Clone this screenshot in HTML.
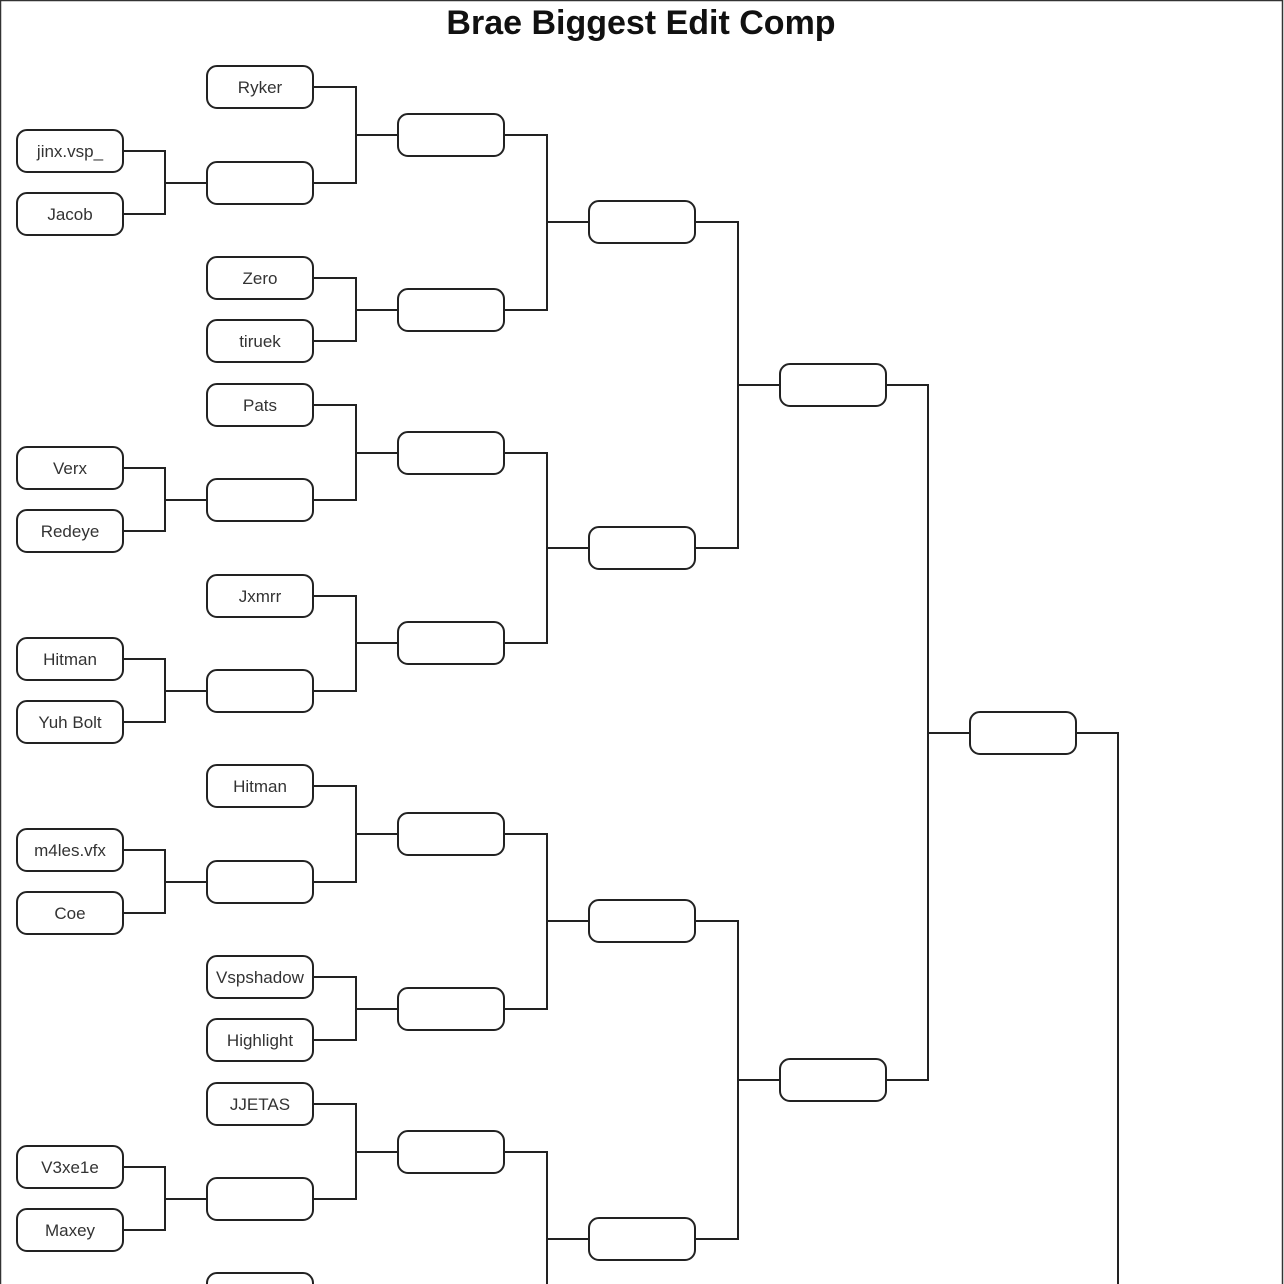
<!DOCTYPE html>
<html><head><meta charset="utf-8"><style>
html,body{margin:0;padding:0;background:#fff}
svg{display:block}
text{font-family:"Liberation Sans",sans-serif}
</style></head><body>
<svg width="1284" height="1284" viewBox="0 0 1284 1284" xmlns="http://www.w3.org/2000/svg">
<rect x="0.5" y="0.5" width="1282" height="1290" fill="#fff" stroke="#333" stroke-width="1.5"/>
<text x="641" y="34" text-anchor="middle" font-size="34" font-weight="bold" fill="#111">Brae Biggest Edit Comp</text>
<g fill="none" stroke="#222" stroke-width="2">
<path d="M123,151H165V214H123M165,183H207"/>
<path d="M123,468H165V531H123M165,500H207"/>
<path d="M123,659H165V722H123M165,691H207"/>
<path d="M123,850H165V913H123M165,882H207"/>
<path d="M123,1167H165V1230H123M165,1199H207"/>
<path d="M313,87H356V183H313M356,135H398"/>
<path d="M313,278H356V341H313M356,310H398"/>
<path d="M313,405H356V500H313M356,453H398"/>
<path d="M313,596H356V691H313M356,643H398"/>
<path d="M313,786H356V882H313M356,834H398"/>
<path d="M313,977H356V1040H313M356,1009H398"/>
<path d="M313,1104H356V1199H313M356,1152H398"/>
<path d="M504,135H547V310H504M547,222H589"/>
<path d="M504,453H547V643H504M547,548H589"/>
<path d="M504,834H547V1009H504M547,921H589"/>
<path d="M504,1152H547V1290M547,1239H589"/>
<path d="M695,222H738V548H695M738,385H780"/>
<path d="M695,921H738V1239H695M738,1080H780"/>
<path d="M886,385H928V1080H886M928,733H970"/>
<path d="M1076,733H1118V1290"/>
</g>
<g fill="#fff" stroke="#222" stroke-width="2">
<rect x="17" y="130" width="106" height="42" rx="10"/>
<rect x="17" y="193" width="106" height="42" rx="10"/>
<rect x="17" y="447" width="106" height="42" rx="10"/>
<rect x="17" y="510" width="106" height="42" rx="10"/>
<rect x="17" y="638" width="106" height="42" rx="10"/>
<rect x="17" y="701" width="106" height="42" rx="10"/>
<rect x="17" y="829" width="106" height="42" rx="10"/>
<rect x="17" y="892" width="106" height="42" rx="10"/>
<rect x="17" y="1146" width="106" height="42" rx="10"/>
<rect x="17" y="1209" width="106" height="42" rx="10"/>
<rect x="207" y="66" width="106" height="42" rx="10"/>
<rect x="207" y="162" width="106" height="42" rx="10"/>
<rect x="207" y="257" width="106" height="42" rx="10"/>
<rect x="207" y="320" width="106" height="42" rx="10"/>
<rect x="207" y="384" width="106" height="42" rx="10"/>
<rect x="207" y="479" width="106" height="42" rx="10"/>
<rect x="207" y="575" width="106" height="42" rx="10"/>
<rect x="207" y="670" width="106" height="42" rx="10"/>
<rect x="207" y="765" width="106" height="42" rx="10"/>
<rect x="207" y="861" width="106" height="42" rx="10"/>
<rect x="207" y="956" width="106" height="42" rx="10"/>
<rect x="207" y="1019" width="106" height="42" rx="10"/>
<rect x="207" y="1083" width="106" height="42" rx="10"/>
<rect x="207" y="1178" width="106" height="42" rx="10"/>
<rect x="207" y="1273" width="106" height="42" rx="10"/>
<rect x="398" y="114" width="106" height="42" rx="10"/>
<rect x="398" y="289" width="106" height="42" rx="10"/>
<rect x="398" y="432" width="106" height="42" rx="10"/>
<rect x="398" y="622" width="106" height="42" rx="10"/>
<rect x="398" y="813" width="106" height="42" rx="10"/>
<rect x="398" y="988" width="106" height="42" rx="10"/>
<rect x="398" y="1131" width="106" height="42" rx="10"/>
<rect x="589" y="201" width="106" height="42" rx="10"/>
<rect x="589" y="527" width="106" height="42" rx="10"/>
<rect x="589" y="900" width="106" height="42" rx="10"/>
<rect x="589" y="1218" width="106" height="42" rx="10"/>
<rect x="780" y="364" width="106" height="42" rx="10"/>
<rect x="780" y="1059" width="106" height="42" rx="10"/>
<rect x="970" y="712" width="106" height="42" rx="10"/>
</g>
<g font-size="17" fill="#333" text-anchor="middle">
<text x="70" y="157">jinx.vsp_</text>
<text x="70" y="220">Jacob</text>
<text x="70" y="474">Verx</text>
<text x="70" y="537">Redeye</text>
<text x="70" y="665">Hitman</text>
<text x="70" y="728">Yuh Bolt</text>
<text x="70" y="856">m4les.vfx</text>
<text x="70" y="919">Coe</text>
<text x="70" y="1173">V3xe1e</text>
<text x="70" y="1236">Maxey</text>
<text x="260" y="93">Ryker</text>
<text x="260" y="284">Zero</text>
<text x="260" y="347">tiruek</text>
<text x="260" y="411">Pats</text>
<text x="260" y="602">Jxmrr</text>
<text x="260" y="792">Hitman</text>
<text x="260" y="983">Vspshadow</text>
<text x="260" y="1046">Highlight</text>
<text x="260" y="1110">JJETAS</text>
</g>
</svg>
</body></html>
